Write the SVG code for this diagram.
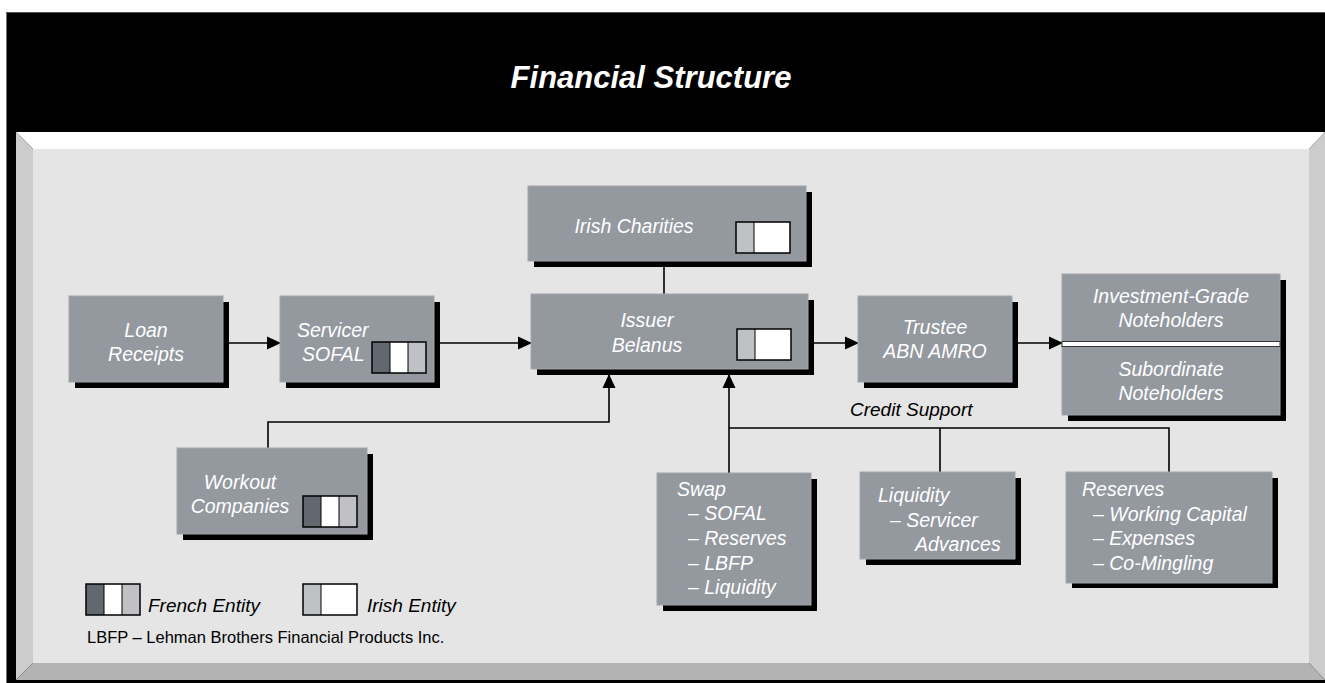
<svg xmlns="http://www.w3.org/2000/svg" width="1325" height="683" viewBox="0 0 1325 683">
<style>
.box{fill:#94989f;stroke:#a3a6ac;stroke-width:1}
.sh{fill:#000}
.t{font-family:"Liberation Sans",Arial,sans-serif;font-style:italic;font-size:19.5px;fill:#fff}
.tc{text-anchor:middle}
.k{font-family:"Liberation Sans",Arial,sans-serif;font-style:italic;font-size:19px;fill:#000}
.ln{fill:none;stroke:#000;stroke-width:1.6}
.fd{fill:#636870}.fw{fill:#fff}.fl{fill:#bfc1c5}
.fo{fill:none;stroke:#000;stroke-width:1.5}
</style>
<defs>
<marker id="ah" markerWidth="14" markerHeight="14" refX="13" refY="7" orient="auto" markerUnits="userSpaceOnUse">
<path d="M0,0.5 L14,7 L0,13.5 Z" fill="#000"/>
</marker>
<g id="french"><rect class="fd" x="0" y="0" width="18" height="31"/><rect class="fw" x="18" y="0" width="18" height="31"/><rect class="fl" x="36" y="0" width="18" height="31"/><line x1="18" y1="0" x2="18" y2="31" stroke="#000" stroke-width="1"/><line x1="36" y1="0" x2="36" y2="31" stroke="#000" stroke-width="1"/><rect class="fo" x="0" y="0" width="54" height="31"/></g>
<g id="irish"><rect class="fl" x="0" y="0" width="18" height="31"/><rect class="fw" x="18" y="0" width="36" height="31"/><line x1="18" y1="0" x2="18" y2="31" stroke="#000" stroke-width="1"/><rect class="fo" x="0" y="0" width="54" height="31"/></g>
</defs>

<!-- frame -->
<rect x="0" y="0" width="1325" height="683" fill="#fff"/>
<rect x="6" y="12" width="1319" height="671" fill="#000"/>
<line x1="6.5" y1="12" x2="6.5" y2="683" stroke="#777" stroke-width="1"/>
<line x1="6" y1="12.5" x2="1325" y2="12.5" stroke="#555" stroke-width="1"/>
<polygon points="16,132 1325,132 1309,149 33,149" fill="#fff"/>
<polygon points="16,132 33,149 33,663 16,680" fill="#ccc"/>
<polygon points="1325,132 1325,680 1309,663 1309,149" fill="#ccc"/>
<polygon points="16,680 33,663 1309,663 1325,680" fill="#b3b3b3"/>
<rect x="33" y="149" width="1276" height="514" fill="#e5e5e5"/>
<text x="651" y="88" text-anchor="middle" font-family="'Liberation Sans',Arial,sans-serif" font-weight="bold" font-style="italic" font-size="31" fill="#fff">Financial Structure</text>

<!-- connectors -->
<g id="connectors">
<line class="ln" x1="229" y1="343" x2="280" y2="343" marker-end="url(#ah)"/>
<line class="ln" x1="440" y1="343" x2="531" y2="343" marker-end="url(#ah)"/>
<line class="ln" x1="814" y1="343" x2="858" y2="343" marker-end="url(#ah)"/>
<line class="ln" x1="1018" y1="343" x2="1062" y2="343" marker-end="url(#ah)"/>
<line class="ln" x1="664" y1="267" x2="664" y2="294"/>
<polyline class="ln" points="268,448 268,422 609,422 609,375" marker-end="url(#ah)"/>
<line class="ln" x1="729" y1="473" x2="729" y2="375" marker-end="url(#ah)"/>
<polyline class="ln" points="729,428 1169,428 1169,472"/>
<line class="ln" x1="940" y1="428" x2="940" y2="472"/>
</g>
<text class="k" x="850" y="416">Credit Support</text>

<!-- nodes -->
<g id="loan">
<rect class="sh" x="75" y="302" width="154" height="86"/>
<rect class="box" x="69" y="296" width="154" height="86"/>
<text class="t tc" x="146" y="337">Loan</text>
<text class="t tc" x="146" y="361">Receipts</text>
</g>
<g id="servicer">
<rect class="sh" x="286" y="302" width="154" height="86"/>
<rect class="box" x="280" y="296" width="154" height="86"/>
<text class="t" x="297" y="337">Servicer</text>
<text class="t" x="302" y="361">SOFAL</text>
<use href="#french" x="372" y="342"/>
</g>
<g id="charities">
<rect class="sh" x="534" y="192" width="278" height="75"/>
<rect class="box" x="528" y="186" width="278" height="75"/>
<text class="t tc" x="634" y="233">Irish Charities</text>
<use href="#irish" x="736" y="222"/>
</g>
<g id="issuer">
<rect class="sh" x="537" y="300" width="277" height="75"/>
<rect class="box" x="531" y="294" width="277" height="75"/>
<text class="t tc" x="647" y="327">Issuer</text>
<text class="t tc" x="647" y="352">Belanus</text>
<use href="#irish" x="737" y="329"/>
</g>
<g id="trustee">
<rect class="sh" x="864" y="302" width="154" height="86"/>
<rect class="box" x="858" y="296" width="154" height="86"/>
<text class="t tc" x="935" y="334">Trustee</text>
<text class="t tc" x="935" y="358">ABN AMRO</text>
</g>
<g id="noteholders">
<rect class="sh" x="1068" y="280" width="218" height="141"/>
<rect class="box" x="1062" y="274" width="218" height="141"/>
<rect x="1062" y="341.5" width="218" height="5" fill="#fff" stroke="#333" stroke-width="1"/>
<text class="t tc" x="1171" y="303">Investment-Grade</text>
<text class="t tc" x="1171" y="327">Noteholders</text>
<text class="t tc" x="1171" y="376">Subordinate</text>
<text class="t tc" x="1171" y="400">Noteholders</text>
</g>
<g id="workout">
<rect class="sh" x="183" y="454" width="190" height="86"/>
<rect class="box" x="177" y="448" width="190" height="86"/>
<text class="t tc" x="240" y="489">Workout</text>
<text class="t tc" x="240" y="513">Companies</text>
<use href="#french" x="303" y="496"/>
</g>
<g id="swap">
<rect class="sh" x="663" y="479" width="154" height="132"/>
<rect class="box" x="657" y="473" width="154" height="132"/>
<text class="t" x="677" y="496">Swap</text>
<text class="t" x="688" y="520">– SOFAL</text>
<text class="t" x="688" y="545">– Reserves</text>
<text class="t" x="688" y="570">– LBFP</text>
<text class="t" x="688" y="594">– Liquidity</text>
</g>
<g id="liquidity">
<rect class="sh" x="866" y="478" width="155" height="87"/>
<rect class="box" x="860" y="472" width="155" height="87"/>
<text class="t" x="878" y="502">Liquidity</text>
<text class="t" x="890" y="527">– Servicer</text>
<text class="t" x="915" y="551">Advances</text>
</g>
<g id="reserves">
<rect class="sh" x="1072" y="478" width="206" height="110"/>
<rect class="box" x="1066" y="472" width="206" height="111"/>
<text class="t" x="1082" y="496">Reserves</text>
<text class="t" x="1093" y="521">– Working Capital</text>
<text class="t" x="1093" y="545">– Expenses</text>
<text class="t" x="1093" y="570">– Co-Mingling</text>
</g>

<!-- legend -->
<g id="legend">
<use href="#french" x="86" y="584"/>
<text class="k" x="148" y="612" font-size="20">French Entity</text>
<use href="#irish" x="303" y="584"/>
<text class="k" x="367" y="612" font-size="20">Irish Entity</text>
<text x="87" y="643" font-family="'Liberation Sans',Arial,sans-serif" font-size="16.5" fill="#000">LBFP – Lehman Brothers Financial Products Inc.</text>
</g>
</svg>
